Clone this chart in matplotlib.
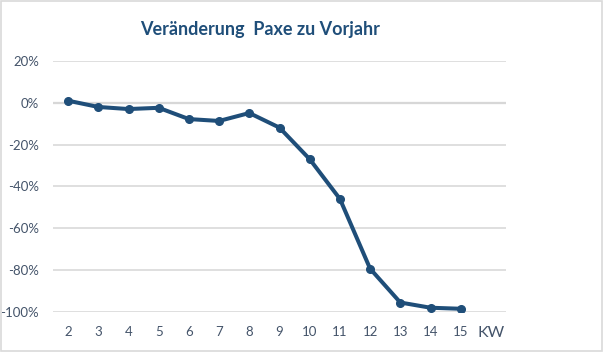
import matplotlib
matplotlib.use("Agg")
import matplotlib.pyplot as plt
from matplotlib.patches import Rectangle

# week numbers (KW) and change of passengers vs previous year, in %
weeks = ["2", "3", "4", "5", "6", "7", "8", "9", "10", "11", "12", "13", "14", "15"]
change = [1.0, -2.0, -3.0, -2.4, -7.8, -8.7, -4.9, -11.9, -27.0, -46.0, -79.4, -95.6, -98.1, -98.6]
yticks = [20, 0, -20, -40, -60, -80, -100]
axis_label = "KW"

NAVY = "#1F4E79"
TEXT = "#44546A"
GRID = "#D9D9D9"

fig = plt.figure(figsize=(6.03, 3.52), dpi=100)
ax = fig.add_axes([53 / 603, 1 - 311.7 / 352, 453 / 603, (311.7 - 61) / 352])

x = list(range(len(weeks)))
ax.plot(x, change, color=NAVY, lw=2.9, marker="o", ms=5.5, zorder=3, solid_capstyle="round")

ax.set_xlim(-0.5, len(weeks) + 0.5)
ax.set_ylim(-100, 20)
ax.set_yticks(yticks)
ax.set_yticklabels([f"{v}%" for v in yticks])
ax.set_xticks(x + [len(weeks)])
ax.set_xticklabels(weeks + [axis_label])
ax.tick_params(length=0, labelcolor=TEXT, labelsize=9.5)
ax.tick_params(axis="x", pad=10)
ax.tick_params(axis="y", pad=10)
for lab in ax.get_xticklabels() + ax.get_yticklabels():
    lab.set_family("Lato")
ax.get_xticklabels()[-1].set_fontsize(11.5)

ax.grid(axis="y", color=GRID, lw=1.2)
ax.axhline(0, color="#CFCFCF", lw=1.6, zorder=1)
for s in ax.spines.values():
    s.set_visible(False)

fig.text(260 / 603, 1 - 29 / 352, "Veränderung  Paxe zu Vorjahr", ha="center", va="center",
         fontsize=13, fontweight="bold", color=NAVY, family="Lato")
fig.patches.append(Rectangle((0.001, 0.002), 0.997, 0.995, transform=fig.transFigure,
                             fill=False, edgecolor=GRID, lw=1.2))

fig.savefig("out.png", dpi=100)
